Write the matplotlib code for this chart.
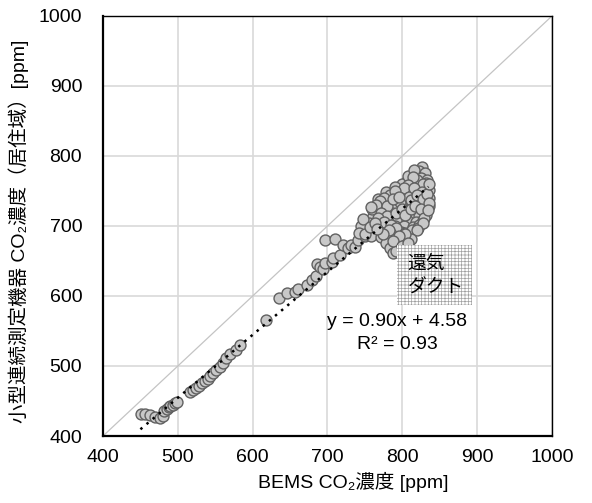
import matplotlib
matplotlib.use("Agg")
import matplotlib.pyplot as plt
from matplotlib.patches import Rectangle

plt.rcParams['font.family'] = ['Liberation Sans', 'Noto Sans CJK JP', 'DejaVu Sans']
plt.rcParams['hatch.linewidth'] = 0.5

# lower / middle section of the scatter
low_x = [451, 456, 463, 470, 476, 480, 482, 485, 488, 490, 493, 496, 499,
         516, 520, 524, 528, 532, 536, 540, 543, 547, 551, 556, 561, 565, 570, 578, 583,
         618, 635, 646, 657, 661, 672, 679, 684, 686, 690, 694, 697, 697, 706, 708, 710,
         717, 721, 728, 732, 737, 741, 750, 757]
low_y = [432, 431, 430, 427, 426, 428, 436, 439, 441, 443, 445, 447, 449,
         463, 466, 469, 472, 475, 478, 481, 486, 490, 494, 499, 504, 511, 517, 523, 530,
         565, 597, 604, 605, 610, 616, 623, 628, 646, 642, 639, 647, 680, 649, 654, 682,
         659, 673, 668, 673, 670, 680, 685, 690]

# dense upper cluster
clu_x = [826, 822, 830, 818, 812, 825, 833, 806, 816, 800, 822, 810, 830, 796, 805, 818, 835,
         788, 800, 812, 826, 834, 782, 794, 806, 820, 830, 776, 787, 800, 812, 824, 835,
         770, 780, 792, 804, 816, 828, 764, 774, 786, 798, 810, 822, 832, 760, 770, 782,
         794, 806, 818, 828, 755, 766, 778, 790, 802, 814, 822, 752, 762, 775, 786, 798,
         810, 758, 772, 784, 796, 806, 778, 790, 800, 784, 794, 788, 745, 748, 742, 760,
         768, 778, 790, 808, 815, 836, 831, 803, 791,
         820, 814, 828, 808, 794, 802, 783, 790, 776, 770, 765, 758, 797, 809, 815, 826,
         780, 788, 796, 812, 819, 827, 833, 772, 779, 792, 799, 768, 775, 785, 803, 811,
         817, 825, 750, 757, 763, 792, 785, 797, 804, 813, 821, 829, 836, 836, 834, 828,
         820, 812, 803, 795, 787, 799, 808, 782, 774, 766]
clu_y = [784, 778, 775, 772, 768, 768, 765, 764, 762, 760, 758, 756, 757, 752, 750, 750, 752,
         746, 744, 745, 744, 742, 740, 738, 738, 737, 735, 734, 731, 732, 730, 730, 728,
         728, 724, 725, 724, 722, 722, 720, 717, 718, 716, 716, 714, 716, 712, 708, 710,
         708, 708, 706, 708, 704, 700, 702, 700, 700, 698, 702, 696, 692, 694, 692, 692,
         690, 686, 684, 684, 684, 682, 676, 676, 674, 668, 668, 662, 700, 710, 690, 724,
         738, 748, 756, 772, 780, 740, 762, 670, 664,
         766, 770, 760, 758, 744, 754, 744, 750, 740, 735, 730, 727, 734, 742, 754, 749,
         729, 738, 741, 737, 744, 738, 746, 719, 714, 719, 724, 711, 706, 702, 716, 724,
         729, 724, 688, 698, 704, 697, 688, 679, 690, 694, 697, 712, 733, 760, 723, 704,
         694, 682, 688, 686, 678, 672, 676, 694, 688, 696]

bems_x = low_x + clu_x
meas_y = low_y + clu_y

slope, intercept = 0.90, 4.58
fit_x = [450, 835]
eq_text = "y = 0.90x + 4.58"
r2_text = "R² = 0.93"

fig = plt.figure(figsize=(5.92, 5.03), dpi=100)
ax = fig.add_axes([0.174, 0.1332, 0.7584, 0.8350])
ax.set_xlim(400, 1000)
ax.set_ylim(400, 1000)
ax.set_xticks(range(400, 1001, 100))
ax.set_yticks(range(400, 1001, 100))
ax.grid(True, color='#d9d9d9', linewidth=1.2)
ax.set_axisbelow(True)
for s in ax.spines.values():
    s.set_color('black')
    s.set_linewidth(1.0)
ax.spines['left'].set_linewidth(1.6)
ax.spines['bottom'].set_linewidth(1.6)
ax.tick_params(length=0, labelsize=14, pad=9)
ax.tick_params(axis='y', pad=15)

ax.plot([400, 1000], [400, 1000], color='#c4c4c4', linewidth=0.9, zorder=1)
ax.scatter(bems_x, meas_y, s=62, facecolor='#c8c8c8', edgecolor='#606060',
           linewidth=1.0, zorder=3)
ax.plot(fit_x, [slope * v + intercept for v in fit_x], linestyle=(0, (1, 2.2)),
        color='black', linewidth=1.8, zorder=4)

rect = Rectangle((793, 587), 100, 86, facecolor='white', edgecolor='#a0a0a0',
                 hatch='+++++', linewidth=0, zorder=5)
ax.add_patch(rect)
ax.text(807, 645, "還気", fontsize=13.5, ha='left', va='center', zorder=6)
ax.text(807, 611, "ダクト", fontsize=13.5, ha='left', va='center', zorder=6)
ax.text(793, 563, eq_text, fontsize=14, ha='center', va='center', zorder=6)
ax.text(793, 530, r2_text, fontsize=14, ha='center', va='center', zorder=6)

ax.set_xlabel("BEMS CO₂濃度 [ppm]", fontsize=14)
ax.set_ylabel("小型連続測定機器 CO₂濃度（居住域）[ppm]", fontsize=14)
ax.xaxis.set_label_coords(0.557, -0.085)
ax.yaxis.set_label_coords(-0.165, 0.488)

fig.savefig("out.png", dpi=100)
